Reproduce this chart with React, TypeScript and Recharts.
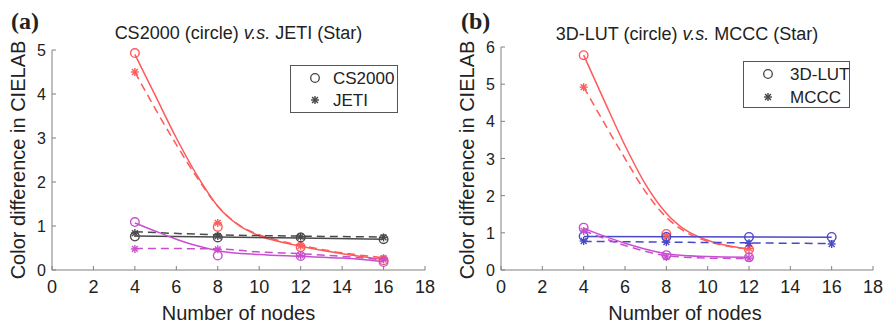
import React from 'react';
import { ComposedChart, Line, Scatter, XAxis, YAxis } from 'recharts';

// measured points, panel (a): CS2000 (circle) vs JETI (star)
const nodesA = [4, 8, 12, 16];
const aRedCircle = [4.93, 0.98, 0.52, 0.22];
const aRedStar = [4.5, 1.07, 0.55, 0.27];
const aBlackCircle = [0.76, 0.74, 0.74, 0.7];
const aBlackStar = [0.84, 0.77, 0.76, 0.74];
const aMagCircle = [1.09, 0.33, 0.32, 0.18];
const aMagStar = [0.48, 0.47, 0.33, 0.24];

// fitted curves, panel (a)
const aRedFitX = [4, 5, 6, 7, 8, 9, 10, 11, 12, 13, 14, 15, 16];
const aRedSolidFit = [4.9, 3.95, 3.0, 2.15, 1.45, 1.02, 0.78, 0.64, 0.54, 0.45, 0.37, 0.3, 0.24];
const aRedDashFit = [4.5, 3.65, 2.85, 2.1, 1.45, 1.03, 0.8, 0.66, 0.56, 0.47, 0.39, 0.33, 0.28];
const aBlackFitX = [4, 8, 12, 16];
const aBlackSolidFit = [0.77, 0.75, 0.73, 0.7];
const aBlackDashFit = [0.87, 0.8, 0.77, 0.75];
const aMagSolidX = [4, 5, 6, 7, 8, 10, 12, 14, 16];
const aMagSolidFit = [1.07, 0.88, 0.7, 0.55, 0.44, 0.35, 0.31, 0.27, 0.19];
const aMagDashX = [4, 8, 10, 12, 14, 16];
const aMagDashFit = [0.49, 0.48, 0.41, 0.37, 0.31, 0.23];

// measured points, panel (b): 3D-LUT (circle) vs MCCC (star)
const nodesB = [4, 8, 12];
const nodesBBlue = [4, 8, 12, 16];
const bRedCircle = [5.78, 0.97, 0.55];
const bRedStar = [4.92, 0.92, 0.58];
const bBlueCircle = [0.91, 0.89, 0.89, 0.89];
const bBlueStar = [0.78, 0.75, 0.72, 0.7];
const bMagCircle = [1.14, 0.4, 0.34];
const bMagStar = [1.05, 0.35, 0.32];

// fitted curves, panel (b)
const bRedFitX = [4, 5, 6, 7, 8, 9, 10, 11, 12];
const bRedSolidFit = [5.78, 4.55, 3.35, 2.3, 1.53, 1.05, 0.8, 0.65, 0.56];
const bRedDashFit = [4.92, 3.95, 3.0, 2.1, 1.42, 1.0, 0.77, 0.64, 0.57];
const bBlueFitX = [4, 16];
const bBlueSolidFit = [0.9, 0.88];
const bBlueDashFit = [0.77, 0.71];
const bMagFitX = [4, 6, 8, 10, 12];
const bMagSolidFit = [1.12, 0.72, 0.44, 0.36, 0.34];
const bMagDashFit = [1.06, 0.66, 0.39, 0.32, 0.31];

const xTicks = [0, 2, 4, 6, 8, 10, 12, 14, 16, 18];
const yTicksA = [0, 1, 2, 3, 4, 5];
const yTicksB = [0, 1, 2, 3, 4, 5, 6];

const RED = '#ff5a5a';
const BLACK = '#4a4a4a';
const MAG = '#c84fd0';
const BLUE = '#4848c8';
const AXIS = '#808080';
const FONT = '"Liberation Sans", Arial, sans-serif';

const pts = (xs: number[], ys: number[]) => xs.map((x, i) => ({ x, y: ys[i] }));

const XTick = ({ x, y, payload }: any) => (
  <g>
    <line x1={x} y1={y} x2={x} y2={y - 4} stroke={AXIS} />
    <text x={x} y={y + 23} textAnchor="middle" fontSize={18} fill="#222" fontFamily={FONT}>
      {payload.value}
    </text>
  </g>
);

const YTick = ({ x, y, payload }: any) => (
  <g>
    <line x1={x} y1={y} x2={x + 4} y2={y} stroke={AXIS} />
    <text x={x - 6} y={y + 6} textAnchor="end" fontSize={16} fill="#222" fontFamily={FONT}>
      {payload.value}
    </text>
  </g>
);

const circleShape = (color: string) => (props: any) => (
  <circle cx={props.cx} cy={props.cy} r={4.3} fill="none" stroke={color} strokeWidth={1.4} />
);

const starShape = (color: string) => (props: any) => {
  const { cx, cy } = props;
  const r = 4;
  const d = 2.9;
  return (
    <g stroke={color} strokeWidth={1.4}>
      <line x1={cx - r} y1={cy} x2={cx + r} y2={cy} />
      <line x1={cx} y1={cy - r} x2={cx} y2={cy + r} />
      <line x1={cx - d} y1={cy - d} x2={cx + d} y2={cy + d} />
      <line x1={cx - d} y1={cy + d} x2={cx + d} y2={cy - d} />
    </g>
  );
};

function fit(key: string, xs: number[], ys: number[], color: string, dashed: boolean) {
  return (
    <Line
      key={key}
      data={pts(xs, ys)}
      dataKey="y"
      type="monotone"
      stroke={color}
      strokeWidth={1.5}
      strokeDasharray={dashed ? '8 5' : undefined}
      dot={false}
      activeDot={false}
      isAnimationActive={false}
    />
  );
}

function marks(key: string, xs: number[], ys: number[], color: string, star: boolean) {
  return (
    <Scatter
      key={key}
      data={pts(xs, ys)}
      dataKey="y"
      shape={star ? starShape(color) : circleShape(color)}
      isAnimationActive={false}
    />
  );
}

export default function App() {
  const axisProps = {
    axisLine: { stroke: AXIS },
    tickLine: false,
    tickSize: 0,
    tickMargin: 0,
  };
  return (
    <div style={{ position: 'absolute', left: 0, top: 0, width: 883, height: 323, background: '#fff' }}>
      <div style={{ position: 'absolute', left: 0, top: 0 }}>
        <ComposedChart width={440} height={323} margin={{ top: 50, left: 42, right: 15, bottom: 43 }}>
          <XAxis type="number" dataKey="x" domain={[0, 18]} ticks={xTicks} height={10} tick={<XTick />} {...axisProps} />
          <YAxis type="number" dataKey="y" domain={[0, 5]} ticks={yTicksA} width={10} tick={<YTick />} {...axisProps} />
          {fit('ars', aRedFitX, aRedSolidFit, RED, false)}
          {fit('ard', aRedFitX, aRedDashFit, RED, true)}
          {fit('abs', aBlackFitX, aBlackSolidFit, BLACK, false)}
          {fit('abd', aBlackFitX, aBlackDashFit, BLACK, true)}
          {fit('ams', aMagSolidX, aMagSolidFit, MAG, false)}
          {fit('amd', aMagDashX, aMagDashFit, MAG, true)}
          {marks('arc', nodesA, aRedCircle, RED, false)}
          {marks('ars2', nodesA, aRedStar, RED, true)}
          {marks('abc', nodesA, aBlackCircle, BLACK, false)}
          {marks('abs2', nodesA, aBlackStar, BLACK, true)}
          {marks('amc', nodesA, aMagCircle, MAG, false)}
          {marks('ams2', nodesA, aMagStar, MAG, true)}
        </ComposedChart>
      </div>
      <div style={{ position: 'absolute', left: 440, top: 0 }}>
        <ComposedChart width={443} height={323} margin={{ top: 47, left: 51, right: 10, bottom: 43 }}>
          <XAxis type="number" dataKey="x" domain={[0, 18]} ticks={xTicks} height={10} tick={<XTick />} {...axisProps} />
          <YAxis type="number" dataKey="y" domain={[0, 6]} ticks={yTicksB} width={10} tick={<YTick />} {...axisProps} />
          {fit('brs', bRedFitX, bRedSolidFit, RED, false)}
          {fit('brd', bRedFitX, bRedDashFit, RED, true)}
          {fit('bbs', bBlueFitX, bBlueSolidFit, BLUE, false)}
          {fit('bbd', bBlueFitX, bBlueDashFit, BLUE, true)}
          {fit('bms', bMagFitX, bMagSolidFit, MAG, false)}
          {fit('bmd', bMagFitX, bMagDashFit, MAG, true)}
          {marks('brc', nodesB, bRedCircle, RED, false)}
          {marks('brs2', nodesB, bRedStar, RED, true)}
          {marks('bbc', nodesBBlue, bBlueCircle, BLUE, false)}
          {marks('bbs2', nodesBBlue, bBlueStar, BLUE, true)}
          {marks('bmc', nodesB, bMagCircle, MAG, false)}
          {marks('bms2', nodesB, bMagStar, MAG, true)}
        </ComposedChart>
      </div>
      <svg width={883} height={323} style={{ position: 'absolute', left: 0, top: 0, pointerEvents: 'none' }}>
        <g fontFamily={FONT} fill="#222">
          <text x={11} y={29} fontSize={24} fontWeight="bold" fontFamily='"Liberation Serif", "Times New Roman", serif'>(a)</text>
          <text x={461} y={29} fontSize={24} fontWeight="bold" fontFamily='"Liberation Serif", "Times New Roman", serif'>(b)</text>
          <text x={238.5} y={39} fontSize={18} textAnchor="middle">
            CS2000 (circle) <tspan fontStyle="italic">v.s.</tspan> JETI (Star)
          </text>
          <text x={687} y={40} fontSize={18} textAnchor="middle">
            3D-LUT (circle) <tspan fontStyle="italic">v.s.</tspan> MCCC (Star)
          </text>
          <text x={238.5} y={320} fontSize={20} textAnchor="middle">Number of nodes</text>
          <text x={685} y={320} fontSize={20} textAnchor="middle">Number of nodes</text>
          <text transform="translate(25,160) rotate(-90)" fontSize={20} textAnchor="middle">Color difference in CIELAB</text>
          <text transform="translate(474,160) rotate(-90)" fontSize={20} textAnchor="middle">Color difference in CIELAB</text>
        </g>
        <g fontFamily={FONT}>
          <rect x={290.5} y={65.5} width={107} height={47} fill="#fff" stroke="#555" />
          <circle cx={315} cy={78} r={4.3} fill="none" stroke="#444" strokeWidth={1.3} />
          <text x={333} y={84} fontSize={17} fill="#222">CS2000</text>
          {starShape('#444')({ cx: 315, cy: 100 })}
          <text x={333} y={106} fontSize={17} fill="#222">JETI</text>
          <rect x={743.5} y={61.5} width={106} height={46} fill="#fff" stroke="#555" />
          <circle cx={768} cy={74} r={4.3} fill="none" stroke="#444" strokeWidth={1.3} />
          <text x={790} y={80} fontSize={17} fill="#222">3D-LUT</text>
          {starShape('#444')({ cx: 768, cy: 97 })}
          <text x={790} y={103} fontSize={17} fill="#222">MCCC</text>
        </g>
      </svg>
    </div>
  );
}
